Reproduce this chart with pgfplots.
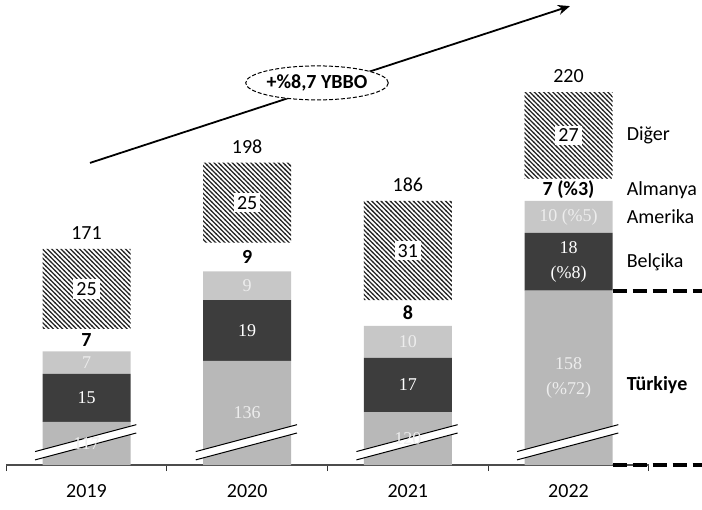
\documentclass[border=0pt]{standalone}
\usepackage{fontspec}
\setmainfont{Carlito}
\newfontfamily\serifnum{Liberation Serif}
\usepackage{pgfplots}
\pgfplotsset{compat=1.18}
\usepackage{pgfplotstable}
\usetikzlibrary{patterns,shapes.geometric,arrows.meta}

\pgfdeclarepatternformonly{hatchnw}{\pgfqpoint{-1pt}{-1pt}}{\pgfqpoint{3.3pt}{3.3pt}}{\pgfqpoint{2.3pt}{2.3pt}}{%
  \pgfsetlinewidth{0.62pt}%
  \pgfpathmoveto{\pgfqpoint{-0.2pt}{2.5pt}}%
  \pgfpathlineto{\pgfqpoint{2.5pt}{-0.2pt}}%
  \pgfusepath{stroke}}

\pgfplotstableread{
yil tur bel ame alm dig top
0 117 15 7 7 25 171
1 136 19 9 9 25 198
2 120 17 10 8 31 186
3 158 18 10 7 27 220
}\data

\definecolor{turc}{gray}{0.72}
\definecolor{amec}{gray}{0.78}
\definecolor{belc}{gray}{0.24}

\pgfplotsset{frame/.style={scale only axis, width=321.33pt, height=232.5pt,
  xmin=-0.5, xmax=3.5, ymin=0, ymax=145.31, clip=false}}

\begin{document}
\begin{tikzpicture}
\begin{axis}[
  frame,
  axis x line*=bottom, axis y line=none,
  axis line style={-},
  x axis line style={black!70, line width=0.6pt},
  ybar stacked, bar width=44pt,
  xtick={0,1,2,3}, xticklabels={2019,2020,2021,2022},
  minor xtick={-0.5,0.5,1.5,2.5,3.5},
  major tick length=0pt, minor tick length=3pt, tick align=outside,
  every minor tick/.style={black!80, line width=0.6pt},
  xticklabel style={anchor=center, yshift=-13pt},
]
\addplot[fill=turc, draw=none] table[x=yil, y expr=\thisrow{tur}-103.5] {\data};
\addplot[fill=belc, draw=none] table[x=yil, y=bel] {\data};
\addplot[fill=amec, draw=none] table[x=yil, y=ame] {\data};
\addplot[draw=none] table[x=yil, y=alm] {\data};
\addplot[draw=none, pattern=hatchnw, pattern color=black!85] table[x=yil, y=dig] {\data};
% growth arrow
\draw[line width=0.9pt, -{Stealth[length=6pt,width=5pt]}] (axis cs:0.0218,94.4) -- (axis cs:3.009,143.4);
\coordinate (bbll) at (axis cs:-0.5384,-14.06);
\coordinate (bbur) at (axis cs:3.8309,145.31);
\end{axis}

\begin{axis}[frame, hide axis]
% axis break strips
\fill[white] (axis cs:-0.32,1.6) -- (axis cs:0.31,10) -- (axis cs:0.31,12.6) -- (axis cs:-0.32,4.2) -- cycle;
\draw[line width=0.5pt] (axis cs:-0.32,1.6) -- (axis cs:0.31,10) (axis cs:-0.32,4.2) -- (axis cs:0.31,12.6);
\fill[white] (axis cs:0.68,1.6) -- (axis cs:1.31,10) -- (axis cs:1.31,12.6) -- (axis cs:0.68,4.2) -- cycle;
\draw[line width=0.5pt] (axis cs:0.68,1.6) -- (axis cs:1.31,10) (axis cs:0.68,4.2) -- (axis cs:1.31,12.6);
\fill[white] (axis cs:1.68,1.6) -- (axis cs:2.31,10) -- (axis cs:2.31,12.6) -- (axis cs:1.68,4.2) -- cycle;
\draw[line width=0.5pt] (axis cs:1.68,1.6) -- (axis cs:2.31,10) (axis cs:1.68,4.2) -- (axis cs:2.31,12.6);
\fill[white] (axis cs:2.68,1.6) -- (axis cs:3.31,10) -- (axis cs:3.31,12.6) -- (axis cs:2.68,4.2) -- cycle;
\draw[line width=0.5pt] (axis cs:2.68,1.6) -- (axis cs:3.31,10) (axis cs:2.68,4.2) -- (axis cs:3.31,12.6);

% in-bar labels
\node[text=white!93!black, font=\serifnum\fontsize{9}{12.5}\selectfont, align=center] at (axis cs:0,6.75) {117};
\node[text=white!93!black, font=\serifnum\fontsize{9}{12.5}\selectfont, align=center] at (axis cs:1,16.25) {136};
\node[text=white!93!black, font=\serifnum\fontsize{9}{12.5}\selectfont, align=center] at (axis cs:2,8.25) {120};
\node[text=white!93!black, font=\serifnum\fontsize{9}{12.5}\selectfont, align=center] at (axis cs:3,27.25) {158\\(\%72)};
\node[text=white, font=\serifnum\fontsize{9}{12.5}\selectfont, align=center] at (axis cs:0,21) {15};
\node[text=white, font=\serifnum\fontsize{9}{12.5}\selectfont, align=center] at (axis cs:1,42) {19};
\node[text=white, font=\serifnum\fontsize{9}{12.5}\selectfont, align=center] at (axis cs:2,25) {17};
\node[text=white, font=\serifnum\fontsize{9}{12.5}\selectfont, align=center] at (axis cs:3,63.5) {18\\(\%8)};
\node[text=white!93!black, font=\serifnum\fontsize{9}{12.5}\selectfont, align=center] at (axis cs:0,32) {7};
\node[text=white!93!black, font=\serifnum\fontsize{9}{12.5}\selectfont, align=center] at (axis cs:1,56) {9};
\node[text=white!93!black, font=\serifnum\fontsize{9}{12.5}\selectfont, align=center] at (axis cs:2,38.5) {10};
\node[text=white!93!black, font=\serifnum\fontsize{9}{12.5}\selectfont, align=center] at (axis cs:3,77.5) {10 (\%5)};

% Almanya labels
\node[font=\bfseries] at (axis cs:0,39) {7};
\node[font=\bfseries] at (axis cs:1,65) {9};
\node[font=\bfseries] at (axis cs:2,47.5) {8};
\node[font=\bfseries] at (axis cs:3,86) {7 (\%3)};

% Diger labels
\node[fill=white, inner sep=1.5pt] at (axis cs:0,55) {25};
\node[fill=white, inner sep=1.5pt] at (axis cs:1,82) {25};
\node[fill=white, inner sep=1.5pt] at (axis cs:2,67) {31};
\node[fill=white, inner sep=1.5pt] at (axis cs:3,103) {27};

% totals
\node at (axis cs:0,72.5) {171};
\node at (axis cs:1,99.5) {198};
\node at (axis cs:2,87.5) {186};
\node at (axis cs:3,121.5) {220};

% right-hand labels
\node[anchor=west, inner sep=0pt] at (axis cs:3.36,103) {Diğer};
\node[anchor=west, inner sep=0pt] at (axis cs:3.36,86) {Almanya};
\node[anchor=west, inner sep=0pt] at (axis cs:3.36,77.5) {Amerika};
\node[anchor=west, inner sep=0pt] at (axis cs:3.36,63.5) {Belçika};
\node[anchor=west, inner sep=0pt, font=\bfseries] at (axis cs:3.36,25) {Türkiye};

\draw[line width=2pt, dash pattern=on 7pt off 3pt] (axis cs:3.274,54.5) -- (axis cs:3.8309,54.5);
\draw[line width=2pt, dash pattern=on 7pt off 3pt] (axis cs:3.274,0) -- (axis cs:3.8309,0);

\node[ellipse, draw, dash pattern=on 2pt off 1pt, fill=white, minimum width=67pt, minimum height=17pt, inner sep=0pt, line width=0.5pt, font=\bfseries] at (axis cs:1.4346,119.4) {+\%8,7 YBBO};
\end{axis}
\pgfresetboundingbox
\useasboundingbox (bbll) rectangle (bbur);
\end{tikzpicture}
\end{document}
